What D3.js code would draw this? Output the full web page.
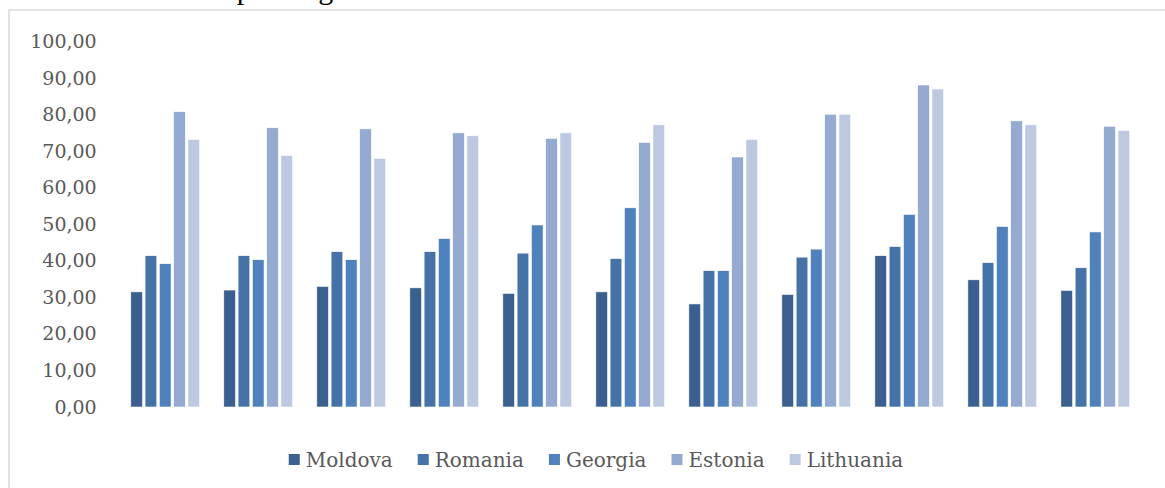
<!DOCTYPE html>
<html>
<head>
<meta charset="utf-8">
<script src="https://cdn.jsdelivr.net/npm/d3@7"></script>
<style>
  body { margin: 0; background: #fff; }
  svg { display: block; }
</style>
</head>
<body>
<svg id="chart"></svg>
<script>
let width = 1165
let height = 488

// data
let countries = ['Moldova', 'Romania', 'Georgia', 'Estonia', 'Lithuania']
let groups = ['1', '2', '3', '4', '5', '6', '7', '8', '9', '10', '11']
let moldova   = [31.5, 32.0, 33.0, 32.6, 31.1, 31.5, 28.2, 30.8, 41.4, 34.8, 31.9]
let romania   = [41.4, 41.4, 42.5, 42.5, 42.1, 40.6, 37.3, 41.0, 43.9, 39.5, 38.1]
let georgia   = [39.2, 40.3, 40.3, 46.1, 49.8, 54.5, 37.3, 43.2, 52.7, 49.4, 47.9]
let estonia   = [80.8, 76.4, 76.1, 75.0, 73.5, 72.4, 68.4, 80.1, 88.1, 78.3, 76.8]
let lithuania = [73.2, 68.8, 68.0, 74.2, 75.0, 77.2, 73.2, 80.1, 87.0, 77.2, 75.7]
let yTicks = [0, 10, 20, 30, 40, 50, 60, 70, 80, 90, 100]

let series = [moldova, romania, georgia, estonia, lithuania]
let colors = ['#3b5f8e', '#4573a8', '#4f81bd', '#95aad0', '#bcc9e1']

let svg = d3.select('#chart')
    .attr('width', width)
    .attr('height', height)

// chart frame (extends past the bottom/right of the crop)
svg.append('rect')
    .attr('x', 9)
    .attr('y', 10)
    .attr('width', 1300)
    .attr('height', 600)
    .attr('fill', 'none')
    .attr('stroke', '#d9d9d9')
    .attr('stroke-width', 1.5)

// caption line above the frame, cut off by the crop (only descenders show)
svg.append('text')
    .attr('x', 225)
    .attr('y', -1)
    .attr('font-family', 'Liberation Serif')
    .attr('font-size', 30)
    .attr('fill', '#000')
    .text('spending')

let xScale = d3.scaleBand()
    .domain(groups)
    .range([118.7, 1141.8])
    .paddingInner(0.26)
    .paddingOuter(0.13)

let xSub = d3.scaleBand()
    .domain(countries)
    .range([0, xScale.bandwidth()])
    .paddingInner(0.18)

let yScale = d3.scaleLinear()
    .domain([0, 100])
    .range([407, 41.5])

let locale = d3.formatLocale({ decimal: ',', thousands: ' ', grouping: [3], currency: ['', ''] })

let yAxis = d3.axisLeft(yScale)
    .tickValues(yTicks)
    .tickSize(0)
    .tickPadding(22)
    .tickFormat(locale.format('.2f'))

let gy = svg.append('g')
    .attr('transform', 'translate(118.7, 0)')
    .call(yAxis)
gy.select('.domain').remove()
gy.selectAll('text')
    .attr('font-family', 'DejaVu Serif')
    .attr('font-size', 19)
    .attr('fill', '#595959')

// bars
countries.forEach((c, i) => {
    svg.append('g')
        .selectAll('rect')
        .data(series[i])
        .enter()
        .append('rect')
        .attr('x', (d, j) => xScale(groups[j]) + xSub(c))
        .attr('y', (d) => yScale(d))
        .attr('width', xSub.bandwidth())
        .attr('height', (d) => yScale(0) - yScale(d))
        .attr('fill', colors[i])
        .attr('stroke', '#fff')
        .attr('stroke-width', 0.6)
})

// legend
let legend = svg.append('g')
let lx = 0
countries.forEach((c, i) => {
    let item = legend.append('g').attr('transform', 'translate(' + lx + ',0)')
    item.append('rect')
        .attr('x', 0)
        .attr('y', -6)
        .attr('width', 11)
        .attr('height', 11)
        .attr('fill', colors[i])
    let t = item.append('text')
        .attr('x', 17)
        .attr('y', 7)
        .attr('font-family', 'DejaVu Serif')
        .attr('font-size', 20)
        .attr('fill', '#595959')
        .text(c)
    lx += 17 + t.node().getComputedTextLength() + 25
})
lx -= 25
legend.attr('transform', 'translate(' + (596 - lx / 2) + ', 460)')
</script>
</body>
</html>
